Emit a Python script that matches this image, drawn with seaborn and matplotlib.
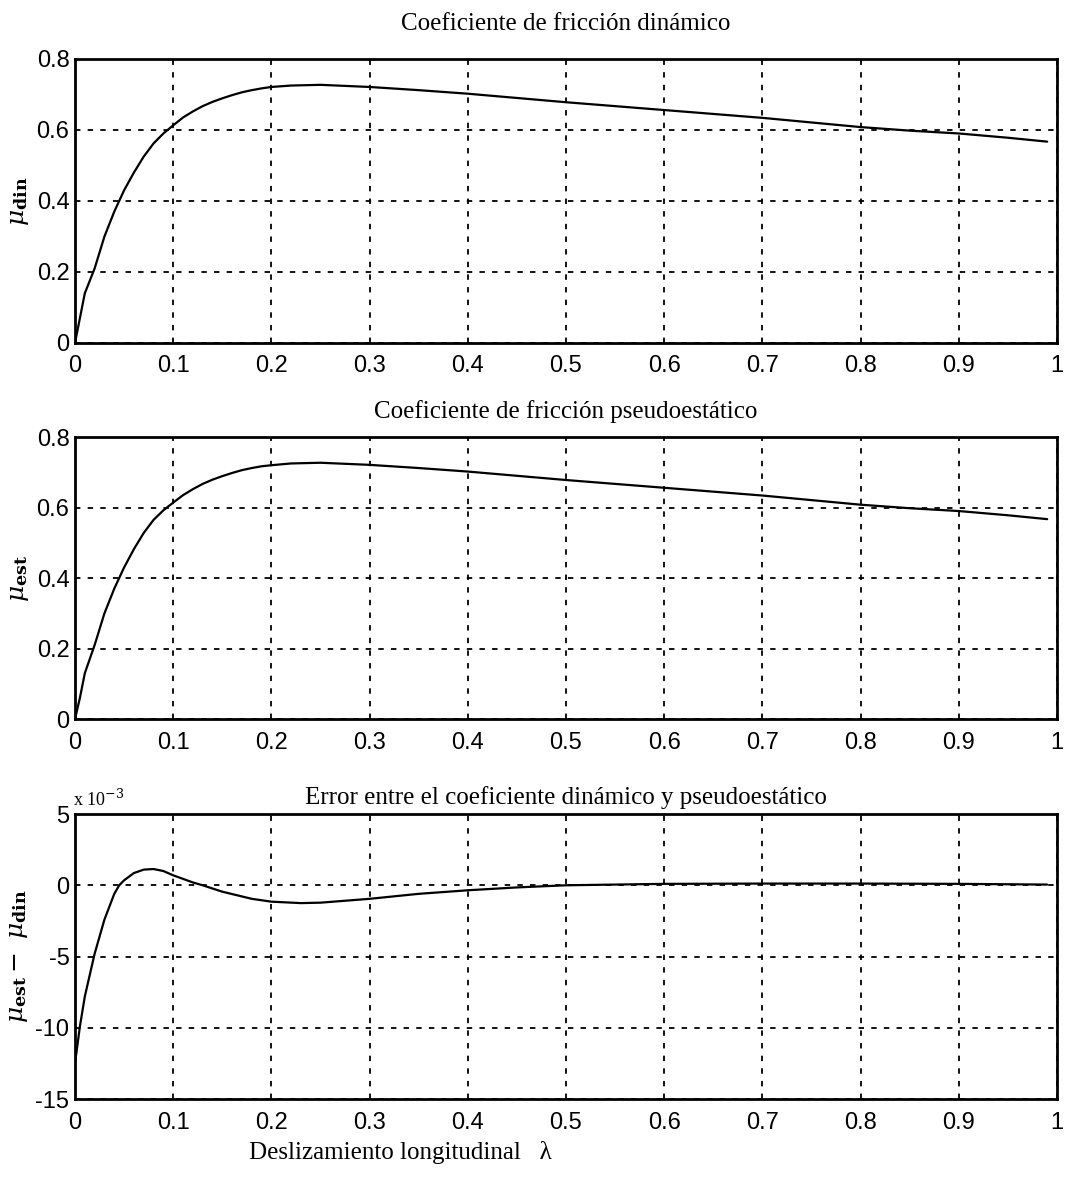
import matplotlib
matplotlib.use("Agg")
import matplotlib.pyplot as plt
import seaborn as sns
import pandas as pd

# ---- data ----
x_din = [0.0, 0.005, 0.01, 0.02, 0.03, 0.04, 0.05, 0.06, 0.07, 0.08, 0.09, 0.10, 0.11,
         0.12, 0.13, 0.14, 0.15, 0.16, 0.17, 0.18, 0.19, 0.20, 0.22, 0.25, 0.30,
         0.35, 0.40, 0.45, 0.50, 0.55, 0.60, 0.65, 0.70, 0.75, 0.80, 0.85, 0.90,
         0.95, 0.99]
mu_din = [0.0, 0.07, 0.14, 0.21, 0.30, 0.37, 0.43, 0.48, 0.525, 0.562, 0.59, 0.613, 0.635,
          0.652, 0.667, 0.679, 0.689, 0.698, 0.706, 0.712, 0.717, 0.721, 0.725, 0.727, 0.721,
          0.712, 0.702, 0.690, 0.678, 0.667, 0.656, 0.645, 0.634, 0.621, 0.608, 0.598, 0.590,
          0.578, 0.567]

x_est = [0.0, 0.005, 0.01, 0.02, 0.03, 0.04, 0.05, 0.06, 0.07, 0.08, 0.09, 0.10, 0.11,
         0.12, 0.13, 0.14, 0.15, 0.16, 0.17, 0.18, 0.19, 0.20, 0.22, 0.25, 0.30,
         0.35, 0.40, 0.45, 0.50, 0.55, 0.60, 0.65, 0.70, 0.75, 0.80, 0.85, 0.90,
         0.95, 0.99]
mu_est = [0.0, 0.06, 0.13, 0.21, 0.30, 0.37, 0.43, 0.482, 0.528, 0.565, 0.592, 0.614, 0.635,
          0.652, 0.667, 0.679, 0.689, 0.698, 0.706, 0.712, 0.717, 0.720, 0.725, 0.727, 0.721,
          0.712, 0.702, 0.690, 0.678, 0.667, 0.656, 0.645, 0.634, 0.621, 0.608, 0.598, 0.590,
          0.578, 0.567]

x_err = [0.0, 0.005, 0.01, 0.02, 0.03, 0.04, 0.045, 0.05, 0.06, 0.07, 0.08, 0.09, 0.10,
         0.11, 0.12, 0.13, 0.15, 0.18, 0.20, 0.23, 0.25, 0.30, 0.35, 0.40, 0.45, 0.50,
         0.60, 0.70, 0.80, 0.90, 0.99]
err = [-12.5, -9.9, -7.8, -4.8, -2.4, -0.6, 0.0, 0.35, 0.86, 1.1, 1.14, 1.0, 0.7,
       0.45, 0.2, 0.0, -0.45, -0.95, -1.15, -1.25, -1.22, -0.95, -0.6, -0.35, -0.15, 0.0,
       0.1, 0.12, 0.12, 0.1, 0.05]

titles = ["Coeficiente de fricción dinámico",
          "Coeficiente de fricción pseudoestático",
          "Error entre el coeficiente dinámico y pseudoestático"]
ylabels = [r"$\mu_{\mathbf{din}}$", r"$\mu_{\mathbf{est}}$",
           r"$\mu_{\mathbf{est}}-\ \mu_{\mathbf{din}}$"]
xticks = [0, 0.1, 0.2, 0.3, 0.4, 0.5, 0.6, 0.7, 0.8, 0.9, 1]
xticklabels = ["0", "0.1", "0.2", "0.3", "0.4", "0.5", "0.6", "0.7", "0.8", "0.9", "1"]
yticks12 = [0, 0.2, 0.4, 0.6, 0.8]
yticklabels12 = ["0", "0.2", "0.4", "0.6", "0.8"]
yticks3 = [-15, -10, -5, 0, 5]
yticklabels3 = ["-15", "-10", "-5", "0", "5"]

sns.set_theme(style="white")
plt.rcParams["font.family"] = ["Liberation Sans", "DejaVu Sans"]
plt.rcParams["mathtext.fontset"] = "dejavuserif"
plt.rcParams["text.color"] = "black"
plt.rcParams["axes.labelcolor"] = "black"
serif = ["Liberation Serif", "DejaVu Serif"]

fig = plt.figure(figsize=(10.68, 11.95), dpi=100)
L, W = 75 / 1068, 982 / 1068
rects = [(L, 0.713, W, 0.2377), (L, 0.3983, W, 0.236), (L, 0.0803, W, 0.2385)]
pads = [21, 14, 7]

datasets = [(x_din, mu_din), (x_est, mu_est), (x_err, err)]
for i, (rect, (xs, ys)) in enumerate(zip(rects, datasets)):
    ax = fig.add_axes(rect)
    df = pd.DataFrame({"x": xs, "y": ys})
    sns.lineplot(data=df, x="x", y="y", ax=ax, color="black", linewidth=1.6)
    ax.set_xlim(0, 1)
    if i < 2:
        ax.set_ylim(0, 0.8)
        ax.set_yticks(yticks12)
        ax.set_yticklabels(yticklabels12)
    else:
        ax.set_ylim(-15, 5)
        ax.set_yticks(yticks3)
        ax.set_yticklabels(yticklabels3)
        ax.text(-0.002, 1.015, r"x 10$^{-3}$", transform=ax.transAxes,
                fontsize=13, ha="left", va="bottom", family=serif, color="black")
    ax.set_xticks(xticks)
    ax.set_xticklabels(xticklabels)
    ax.grid(True, color="black", linestyle=(0, (3, 4)), linewidth=1.3)
    for s in ax.spines.values():
        s.set_color("black")
        s.set_linewidth(2)
    ax.tick_params(direction="in", length=5, width=1.5, colors="black",
                   labelsize=17)
    ax.tick_params(axis="x", pad=9)
    ax.tick_params(axis="y", pad=4)
    ax.set_xlabel("")
    ax.set_ylabel(ylabels[i], fontsize=18, labelpad=4, color="black")
    ax.set_title(titles[i], fontsize=18, pad=pads[i], family=serif, color="black")

fig.text(400 / 1068, 1 - 1152 / 1195, "Deslizamiento longitudinal   λ",
         ha="center", va="center", fontsize=18, family=serif, color="black")

fig.savefig("out.png", dpi=100, facecolor="white")
